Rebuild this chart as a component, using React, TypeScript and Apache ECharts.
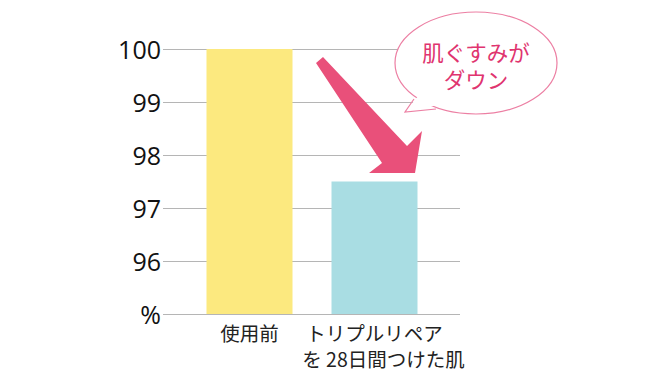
import React, { useEffect, useRef } from "react";
import * as echarts from "echarts";

const categories = ["使用前", "トリプルリペア\nを 28日間つけた肌"];
const values = [100, 97.5];
const barColors = ["#fce97f", "#a9dde3"];
const yMin = 95;
const yMax = 100;
const yInterval = 1;
const bubbleLines = ["肌ぐすみが", "ダウン"];

const FONT = "'Open Sans', 'Noto Sans CJK JP', 'Noto Sans', sans-serif";
const JP = "'Noto Sans CJK JP', 'Noto Sans', sans-serif";

export default function App() {
  const ref = useRef<HTMLDivElement>(null);
  useEffect(() => {
    document.body.style.margin = "0";
    const chart = echarts.init(ref.current!, undefined, { renderer: "svg" });
    chart.setOption({
      animation: false,
      backgroundColor: "#ffffff",
      grid: [
        { left: 163, right: 200, top: 49, bottom: 65 },
        { left: 187, right: 223, top: 49, bottom: 65 },
      ],
      xAxis: [
        { gridIndex: 0, type: "category", data: categories, show: false },
        {
          gridIndex: 1,
          type: "category",
          data: categories,
          axisLine: { show: false },
          axisTick: { show: false },
          axisLabel: {
            color: "#222",
            fontSize: 19.5,
            lineHeight: 26,
            fontFamily: JP,
            margin: 5,
            interval: 0,
            formatter: (v: string) => {
              const parts = v.split("\n");
              if (parts.length < 2) return `{a|${v}}`;
              return `{a|${parts[0]}}\n{b|${parts[1]}}`;
            },
            rich: {
              a: { fontSize: 19.5, lineHeight: 26, fontFamily: JP, color: "#222" },
              b: {
                fontSize: 19.5,
                lineHeight: 26,
                fontFamily: JP,
                color: "#222",
                padding: [0, 0, 0, 18],
              },
            },
          },
        },
      ],
      yAxis: [
        {
          gridIndex: 0,
          type: "value",
          min: yMin,
          max: yMax,
          interval: yInterval,
          axisLine: { show: false },
          axisTick: { show: false },
          splitLine: { show: true, lineStyle: { color: "#b5b5b5", width: 1 } },
          axisLabel: {
            color: "#111",
            fontSize: 25,
            fontFamily: FONT,
            margin: 2,
            formatter: (v: number) => (v === yMin ? "%" : String(v)),
          },
        },
        {
          gridIndex: 1,
          type: "value",
          min: yMin,
          max: yMax,
          interval: yInterval,
          show: false,
          splitLine: { show: false },
        },
      ],
      series: [
        {
          type: "bar",
          xAxisIndex: 1,
          yAxisIndex: 1,
          barWidth: 86,
          z: 1,
          data: values.map((v, i) => ({ value: v, itemStyle: { color: barColors[i] } })),
        },
      ],
      graphic: [
        {
          type: "polygon",
          z: 10,
          shape: {
            points: [
              [316, 63],
              [323, 57],
              [407, 146],
              [422, 131],
              [415, 173],
              [369, 173],
              [382, 163],
            ],
          },
          style: { fill: "#e9507a" },
        },
        {
          type: "ellipse",
          z: 10,
          shape: { cx: 476, cy: 63, rx: 81, ry: 51 },
          style: { fill: "#ffffff", stroke: "#ec7fa3", lineWidth: 1.2 },
        },
        {
          type: "polygon",
          z: 11,
          shape: { points: [[419, 95], [405, 112], [438, 105]] },
          style: { fill: "#ffffff" },
        },
        {
          type: "polyline",
          z: 12,
          shape: { points: [[414, 99], [405, 112], [436, 109]] },
          style: { stroke: "#ec7fa3", lineWidth: 1.2, fill: null },
        },
        {
          type: "text",
          z: 13,
          x: 476,
          y: 65,
          style: {
            text: bubbleLines.join("\n"),
            fill: "#e0346f",
            font: `21.5px ${JP}`,
            lineHeight: 27,
            textAlign: "center",
            textVerticalAlign: "middle",
          },
        },
      ],
    });
    return () => chart.dispose();
  }, []);
  return <div ref={ref} style={{ width: 660, height: 379 }} />;
}
